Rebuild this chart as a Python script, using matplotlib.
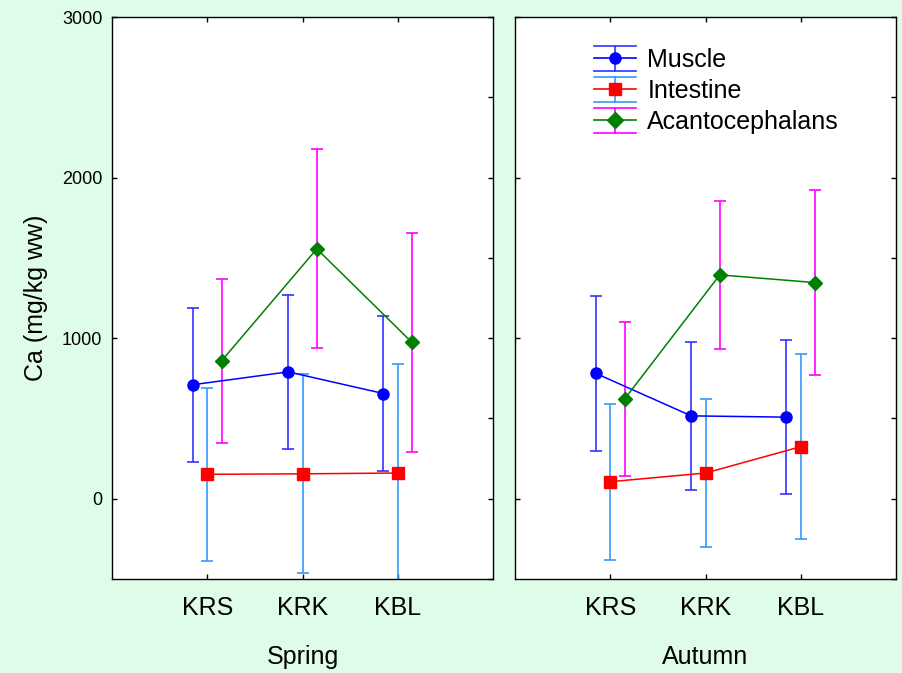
import matplotlib
matplotlib.use("Agg")
import matplotlib.pyplot as plt
from matplotlib.ticker import FixedLocator
from matplotlib.legend_handler import HandlerBase
from matplotlib.lines import Line2D

plt.rcParams['font.family'] = ['Liberation Sans', 'DejaVu Sans']

sites = ['KRS', 'KRK', 'KBL']
seasons = ['Spring', 'Autumn']
tissues = ['Muscle', 'Intestine', 'Acantocephalans']

# Ca (mg/kg ww), mean and half-width of the error bar
muscle_spring = [710, 790, 655]
muscle_spring_err = [480, 480, 480]
intestine_spring = [152, 155, 160]
intestine_spring_err = [540, 620, 680]
acanto_spring = [858, 1556, 973]
acanto_spring_err = [510, 620, 680]

muscle_autumn = [780, 516, 508]
muscle_autumn_err = [480, 460, 480]
intestine_autumn = [106, 160, 324]
intestine_autumn_err = [485, 460, 575]
acanto_autumn = [620, 1394, 1346]
acanto_autumn_err = [480, 460, 575]

bg = '#DFFCE8'
styles = {
    'Muscle': dict(color='#0000FF', marker='o', ecolor='#3333FF', offset=-0.15),
    'Intestine': dict(color='#FF0000', marker='s', ecolor='#3399FF', offset=0.0),
    'Acantocephalans': dict(color='#008000', marker='D', ecolor='#FF00FF', offset=0.15),
}


class ErrKey:
    def __init__(self, color, marker, ecolor):
        self.color = color
        self.marker = marker
        self.ecolor = ecolor


class ErrKeyHandler(HandlerBase):
    def create_artists(self, legend, orig_handle, xdescent, ydescent,
                       width, height, fontsize, trans):
        x0 = -xdescent
        x1 = x0 + width
        xm = (x0 + x1) / 2
        yc = -ydescent + height / 2
        hh = 0.5 * fontsize
        arts = [
            Line2D([x0, x1], [yc + hh, yc + hh], color=orig_handle.ecolor, lw=1.2),
            Line2D([x0, x1], [yc - hh, yc - hh], color=orig_handle.ecolor, lw=1.2),
            Line2D([xm, xm], [yc - hh, yc + hh], color=orig_handle.ecolor, lw=1.2),
            Line2D([x0, x1], [yc, yc], color=orig_handle.color, lw=1.2),
            Line2D([xm], [yc], color=orig_handle.color, marker=orig_handle.marker,
                   markersize=8, linestyle='none'),
        ]
        for a in arts:
            a.set_transform(trans)
        return arts


def draw_panel(ax, data, season):
    x = [1, 2, 3]
    for name, (vals, errs) in zip(tissues, data):
        st = styles[name]
        xs = [xi + st['offset'] for xi in x]
        ax.errorbar(xs, vals, yerr=errs, color=st['color'], marker=st['marker'],
                    markersize=8 if st['marker'] != 'D' else 7.5, lw=1.1,
                    ecolor=st['ecolor'], elinewidth=1.2, capsize=4.5, capthick=1.2)
    ax.set_xlim(0, 4)
    ax.set_ylim(-500, 3000)
    ax.set_facecolor('white')
    for sp in ax.spines.values():
        sp.set_linewidth(1.0)
    ax.xaxis.set_major_locator(FixedLocator(x))
    ax.set_xticklabels(sites)
    ax.yaxis.set_major_locator(FixedLocator([0, 1000, 2000, 3000]))
    ax.yaxis.set_minor_locator(FixedLocator([-500, 500, 1500, 2500]))
    ax.tick_params(axis='x', direction='in', length=3.5, width=1, top=True,
                   labelsize=18, pad=12)
    ax.tick_params(axis='y', which='major', direction='in', length=3.5, width=1,
                   left=True, right=True, labelsize=13, pad=7)
    ax.tick_params(axis='y', which='minor', direction='in', length=3.5, width=1,
                   left=False, right=True)
    ax.set_xlabel(season, fontsize=18, labelpad=18.5)


fig = plt.figure(figsize=(9.02, 6.73), dpi=100, facecolor=bg)
ax1 = fig.add_axes([112 / 902, 1 - 579 / 673, 381 / 902, 562 / 673])
ax2 = fig.add_axes([515 / 902, 1 - 579 / 673, 381 / 902, 562 / 673])

draw_panel(ax1, [(muscle_spring, muscle_spring_err),
                 (intestine_spring, intestine_spring_err),
                 (acanto_spring, acanto_spring_err)], seasons[0])
draw_panel(ax2, [(muscle_autumn, muscle_autumn_err),
                 (intestine_autumn, intestine_autumn_err),
                 (acanto_autumn, acanto_autumn_err)], seasons[1])

ax1.set_ylabel('Ca (mg/kg ww)', fontsize=18, labelpad=10)
ax2.tick_params(axis='y', labelleft=False)

keys = [ErrKey(styles[t]['color'], styles[t]['marker'], styles[t]['ecolor']) for t in tissues]
ax2.legend(keys, tissues, handler_map={ErrKey: ErrKeyHandler()},
           loc='upper left', bbox_to_anchor=(594 / 902, 1 - 48 / 673),
           bbox_transform=fig.transFigure, frameon=False, fontsize=18,
           borderpad=0, borderaxespad=0, handlelength=1.68, handletextpad=0.45,
           labelspacing=0.28)

fig.savefig('out.png', dpi=100, facecolor=bg)
